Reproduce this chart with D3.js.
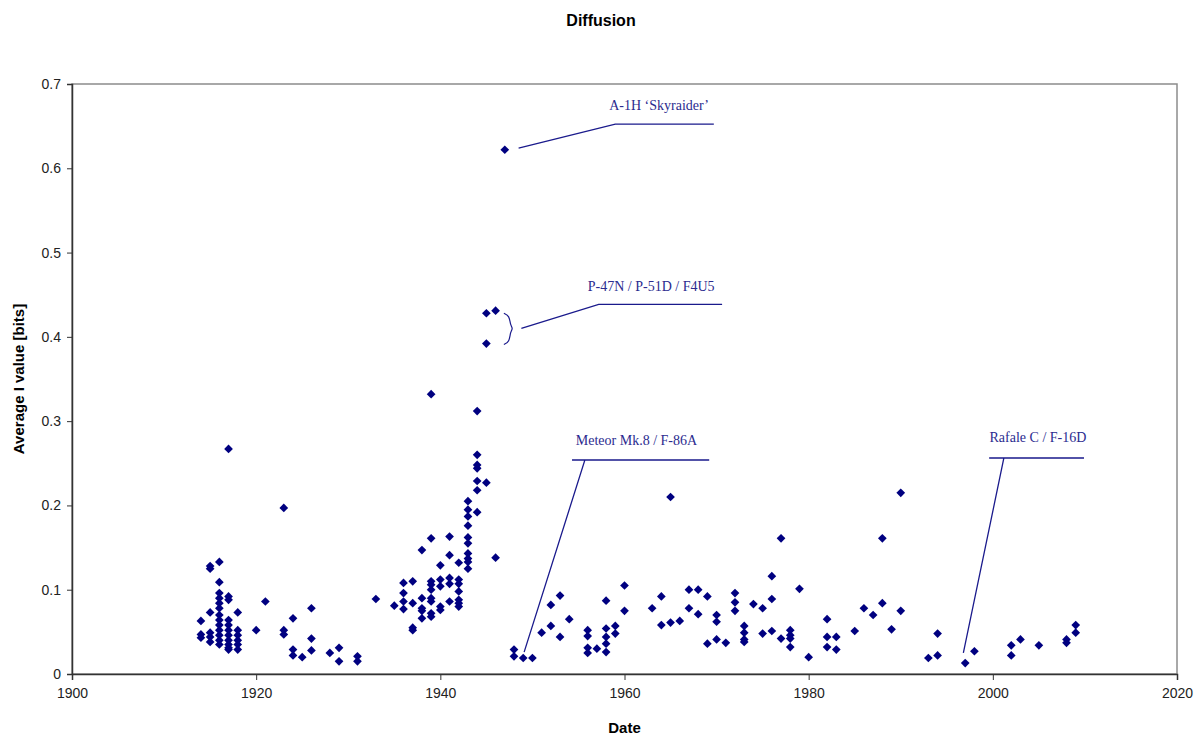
<!DOCTYPE html>
<html>
<head>
<meta charset="utf-8">
<script src="https://cdn.jsdelivr.net/npm/d3@7"></script>
<style>
  body { margin: 0; background: #fff; }
  svg { display: block; }
</style>
</head>
<body>
<svg id="chart" width="1199" height="738"></svg>
<script>
// one entry per aircraft: year of service and average I value
const years = [
  1914, 1914, 1914,
  1915, 1915, 1915, 1915, 1915, 1915,
  1916, 1916, 1916, 1916, 1916, 1916, 1916, 1916, 1916, 1916, 1916, 1916, 1916,
  1917, 1917, 1917, 1917, 1917, 1917, 1917, 1917, 1917, 1917, 1917,
  1918, 1918, 1918, 1918, 1918, 1918,
  1920, 1921, 1923, 1923, 1923, 1924, 1924, 1924, 1925, 1926, 1926, 1926,
  1928, 1929, 1929, 1931, 1931, 1933,
  1935, 1936, 1936, 1936, 1936, 1937, 1937, 1937, 1937,
  1938, 1938, 1938, 1938, 1938,
  1939, 1939, 1939, 1939, 1939, 1939, 1939, 1939, 1939,
  1940, 1940, 1940, 1940, 1940,
  1941, 1941, 1941, 1941, 1941,
  1942, 1942, 1942, 1942, 1942, 1942, 1942,
  1943, 1943, 1943, 1943, 1943, 1943, 1943, 1943, 1943, 1943,
  1944, 1944, 1944, 1944, 1944, 1944, 1944,
  1945, 1945, 1945, 1946, 1946, 1947,
  1948, 1948, 1949, 1950, 1951, 1952, 1952, 1953, 1953, 1954,
  1956, 1956, 1956, 1956, 1957, 1958, 1958, 1958, 1958, 1958, 1959, 1959,
  1960, 1960, 1963, 1964, 1964, 1965, 1965, 1966, 1967, 1967, 1968, 1968,
  1969, 1969, 1970, 1970, 1970, 1971, 1972, 1972, 1972,
  1973, 1973, 1973, 1973, 1974, 1975, 1975, 1976, 1976, 1976, 1977, 1977,
  1978, 1978, 1978, 1978, 1979, 1980, 1982, 1982, 1982, 1983, 1983,
  1985, 1986, 1987, 1988, 1988, 1989, 1990, 1990, 1993, 1994, 1994,
  1997, 1998, 2002, 2002, 2003, 2005, 2008, 2008, 2009, 2009
];
const values = [
  0.063, 0.047, 0.043,
  0.128, 0.125, 0.073, 0.049, 0.044, 0.038,
  0.133, 0.109, 0.096, 0.090, 0.084, 0.078, 0.070, 0.064, 0.058, 0.052, 0.046, 0.040, 0.035,
  0.267, 0.092, 0.088, 0.064, 0.058, 0.052, 0.046, 0.040, 0.035, 0.031, 0.029,
  0.073, 0.052, 0.046, 0.040, 0.035, 0.029,
  0.052, 0.086, 0.197, 0.052, 0.047, 0.066, 0.029, 0.022, 0.020, 0.078, 0.042, 0.028,
  0.025, 0.031, 0.015, 0.021, 0.015, 0.089,
  0.081, 0.108, 0.096, 0.086, 0.077, 0.110, 0.084, 0.055, 0.052,
  0.147, 0.090, 0.078, 0.075, 0.066,
  0.332, 0.161, 0.110, 0.106, 0.100, 0.090, 0.086, 0.072, 0.068,
  0.129, 0.112, 0.104, 0.080, 0.076,
  0.163, 0.141, 0.114, 0.107, 0.086,
  0.132, 0.112, 0.107, 0.098, 0.088, 0.084, 0.080,
  0.205, 0.195, 0.187, 0.176, 0.162, 0.155, 0.143, 0.137, 0.133, 0.125,
  0.312, 0.260, 0.248, 0.244, 0.229, 0.218, 0.192,
  0.428, 0.392, 0.227, 0.431, 0.138, 0.622,
  0.029, 0.021, 0.019, 0.019, 0.049, 0.082, 0.057, 0.093, 0.044, 0.065,
  0.052, 0.045, 0.031, 0.025, 0.030, 0.087, 0.054, 0.044, 0.036, 0.026, 0.057, 0.048,
  0.105, 0.075, 0.078, 0.092, 0.058, 0.210, 0.061, 0.063, 0.100, 0.078, 0.100, 0.071,
  0.092, 0.036, 0.070, 0.062, 0.041, 0.037, 0.096, 0.085, 0.075,
  0.057, 0.049, 0.041, 0.038, 0.083, 0.078, 0.048, 0.116, 0.089, 0.051, 0.161, 0.042,
  0.052, 0.046, 0.042, 0.032, 0.101, 0.020, 0.065, 0.044, 0.032, 0.044, 0.029,
  0.051, 0.078, 0.070, 0.161, 0.084, 0.053, 0.215, 0.075, 0.019, 0.048, 0.022,
  0.013, 0.027, 0.034, 0.022, 0.041, 0.034, 0.041, 0.037, 0.058, 0.049
];

const xTicks = [1900, 1920, 1940, 1960, 1980, 2000, 2020];
const yTicks = [0, 0.1, 0.2, 0.3, 0.4, 0.5, 0.6, 0.7];

// callouts: label, label anchor, leader line points [year, value]
const calloutLabels = ["A-1H \u2018Skyraider\u2019", "P-47N / P-51D / F4U5", "Meteor Mk.8 / F-86A", "Rafale C / F-16D"];
const calloutText = [[1963.75, 0.669], [1962.9, 0.455], [1961.3, 0.272], [2004.9, 0.275]];
const calloutLines = [
  [[1948.5, 0.624], [1959.0, 0.6525], [1969.7, 0.6525]],
  [[1948.8, 0.410], [1957.2, 0.4386], [1970.6, 0.4386]],
  [[1949.1, 0.026], [1955.7, 0.2539], [1954.3, 0.2539], [1969.2, 0.2539]],
  [[1996.8, 0.025], [2001.2, 0.2563], [1999.6, 0.2563], [2009.9, 0.2563]]
];
// brace grouping the three P-47N / P-51D / F4U5 points
const brace = [[1946.9, 0.428], [1947.5, 0.425], [1947.6, 0.414], [1947.9, 0.410], [1947.6, 0.406], [1947.5, 0.394], [1946.9, 0.391]];

const margin = { top: 84, right: 22, bottom: 64, left: 72 };
const width = 1199, height = 738;

const svg = d3.select("#chart");
svg.append("rect").attr("width", width).attr("height", height).attr("fill", "#fff");

const x = d3.scaleLinear()
  .domain([1900, 2020])
  .range([margin.left, width - margin.right]);

const y = d3.scaleLinear()
  .domain([0, 0.7])
  .range([height - margin.bottom, margin.top]);

// plot frame
svg.append("rect")
  .attr("x", x(1900)).attr("y", y(0.7))
  .attr("width", x(2020) - x(1900)).attr("height", y(0) - y(0.7))
  .attr("fill", "none").attr("stroke", "#8c8c8c").attr("stroke-width", 1.5);

const xAxis = svg.append("g")
  .attr("transform", `translate(0,${y(0)})`)
  .call(d3.axisBottom(x).tickValues(xTicks).tickFormat(d3.format("d")).tickSize(6).tickPadding(8));

const yAxis = svg.append("g")
  .attr("transform", `translate(${x(1900)},0)`)
  .call(d3.axisLeft(y).tickValues(yTicks).tickFormat(d => d === 0 ? "0" : d3.format(".1f")(d)).tickSize(5).tickPadding(6));

[xAxis, yAxis].forEach(g => {
  g.select(".domain").attr("stroke", "#333").attr("stroke-width", 1.5);
  g.selectAll(".tick line").attr("stroke", "#333");
  g.selectAll("text")
    .attr("font-family", "Liberation Sans, Arial, sans-serif")
    .attr("font-size", 14)
    .attr("fill", "#222");
});

// points
const diamond = d3.symbol().type(d3.symbolSquare).size(38);
svg.append("g")
  .selectAll("path")
  .data(years.map((yr, i) => [yr, values[i]]))
  .join("path")
  .attr("d", diamond)
  .attr("transform", d => `translate(${x(d[0])},${y(d[1])}) rotate(45)`)
  .attr("fill", "#000080");

// callouts
const line = d3.line().x(d => x(d[0])).y(d => y(d[1]));
svg.append("g")
  .selectAll("path")
  .data(calloutLines)
  .join("path")
  .attr("d", line)
  .attr("fill", "none")
  .attr("stroke", "#1a1a8c")
  .attr("stroke-width", 1.3);

svg.append("path")
  .attr("d", d3.line().x(d => x(d[0])).y(d => y(d[1])).curve(d3.curveBasis)(brace))
  .attr("fill", "none")
  .attr("stroke", "#1a1a8c")
  .attr("stroke-width", 1.2);

svg.append("g")
  .selectAll("text")
  .data(calloutLabels)
  .join("text")
  .attr("x", (d, i) => x(calloutText[i][0]))
  .attr("y", (d, i) => y(calloutText[i][1]))
  .attr("text-anchor", "middle")
  .attr("font-family", "Liberation Serif, Times New Roman, serif")
  .attr("font-size", 14)
  .attr("fill", "#2b2b8f")
  .text(d => d);

// titles
svg.append("text")
  .attr("x", 601).attr("y", 26)
  .attr("text-anchor", "middle")
  .attr("font-family", "Liberation Sans, Arial, sans-serif")
  .attr("font-size", 16).attr("font-weight", "bold")
  .text("Diffusion");

svg.append("text")
  .attr("x", (x(1900) + x(2020)) / 2).attr("y", 733)
  .attr("text-anchor", "middle")
  .attr("font-family", "Liberation Sans, Arial, sans-serif")
  .attr("font-size", 15).attr("font-weight", "bold")
  .text("Date");

svg.append("text")
  .attr("transform", `translate(24,${(y(0) + y(0.7)) / 2}) rotate(-90)`)
  .attr("text-anchor", "middle")
  .attr("font-family", "Liberation Sans, Arial, sans-serif")
  .attr("font-size", 15).attr("font-weight", "bold")
  .text("Average I value [bits]");
</script>
</body>
</html>
